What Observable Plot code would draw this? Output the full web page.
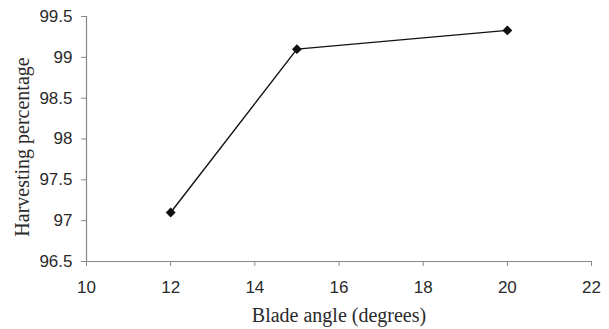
<!DOCTYPE html>
<html>
<head>
<meta charset="utf-8">
<script src="https://cdn.jsdelivr.net/npm/d3@7"></script>
<script src="https://cdn.jsdelivr.net/npm/@observablehq/plot@0.6"></script>
<style>
  html, body { margin: 0; padding: 0; background: #fff; }
  svg { display: block; }
</style>
</head>
<body>
<div id="chart"></div>
<script>
const bladeAngle = [12, 15, 20];
const harvesting = [97.1, 99.1, 99.33];
const xTicks = [10, 12, 14, 16, 18, 20, 22];
const yTicks = [96.5, 97, 97.5, 98, 98.5, 99, 99.5];

const data = bladeAngle.map((x, i) => ({x, y: harvesting[i]}));

const plot = Plot.plot({
  width: 609,
  height: 329,
  marginLeft: 86,
  marginRight: 18,
  marginTop: 16,
  marginBottom: 68,
  style: {fontFamily: "'Liberation Sans', Arial, sans-serif", fontSize: "17px", background: "#fff", color: "#2a2a2a"},
  x: {domain: [10, 22]},
  y: {domain: [96.5, 99.5]},
  marks: [
    Plot.ruleX([10], {stroke: "#888", strokeWidth: 1.2}),
    Plot.ruleY([96.5], {stroke: "#888", strokeWidth: 1.2}),
    Plot.axisX({ticks: xTicks, tickSize: 5, tickPadding: 14, stroke: "#888", tickFormat: d => String(d), label: null, fontSize: 17}),
    Plot.axisY({ticks: yTicks, tickSize: 5, tickPadding: 9, stroke: "#888", tickFormat: d => String(d), label: null, fontSize: 17}),
    Plot.line(data, {x: "x", y: "y", stroke: "#111", strokeWidth: 1.4}),
    Plot.dot(data, {x: "x", y: "y", symbol: "diamond2", r: 3.5, fill: "#111", stroke: "#111"}),
    Plot.text(["Blade angle (degrees)"], {frameAnchor: "bottom", dy: 60, fontFamily: "'Liberation Serif', 'Times New Roman', serif", fontSize: 20, fill: "#2a2a2a"}),
    Plot.text(["Harvesting percentage"], {frameAnchor: "left", textAnchor: "middle", dx: -64, dy: 8, rotate: -90, fontFamily: "'Liberation Serif', 'Times New Roman', serif", fontSize: 20, fill: "#2a2a2a"})
  ]
});
document.getElementById("chart").appendChild(plot);
</script>
</body>
</html>
